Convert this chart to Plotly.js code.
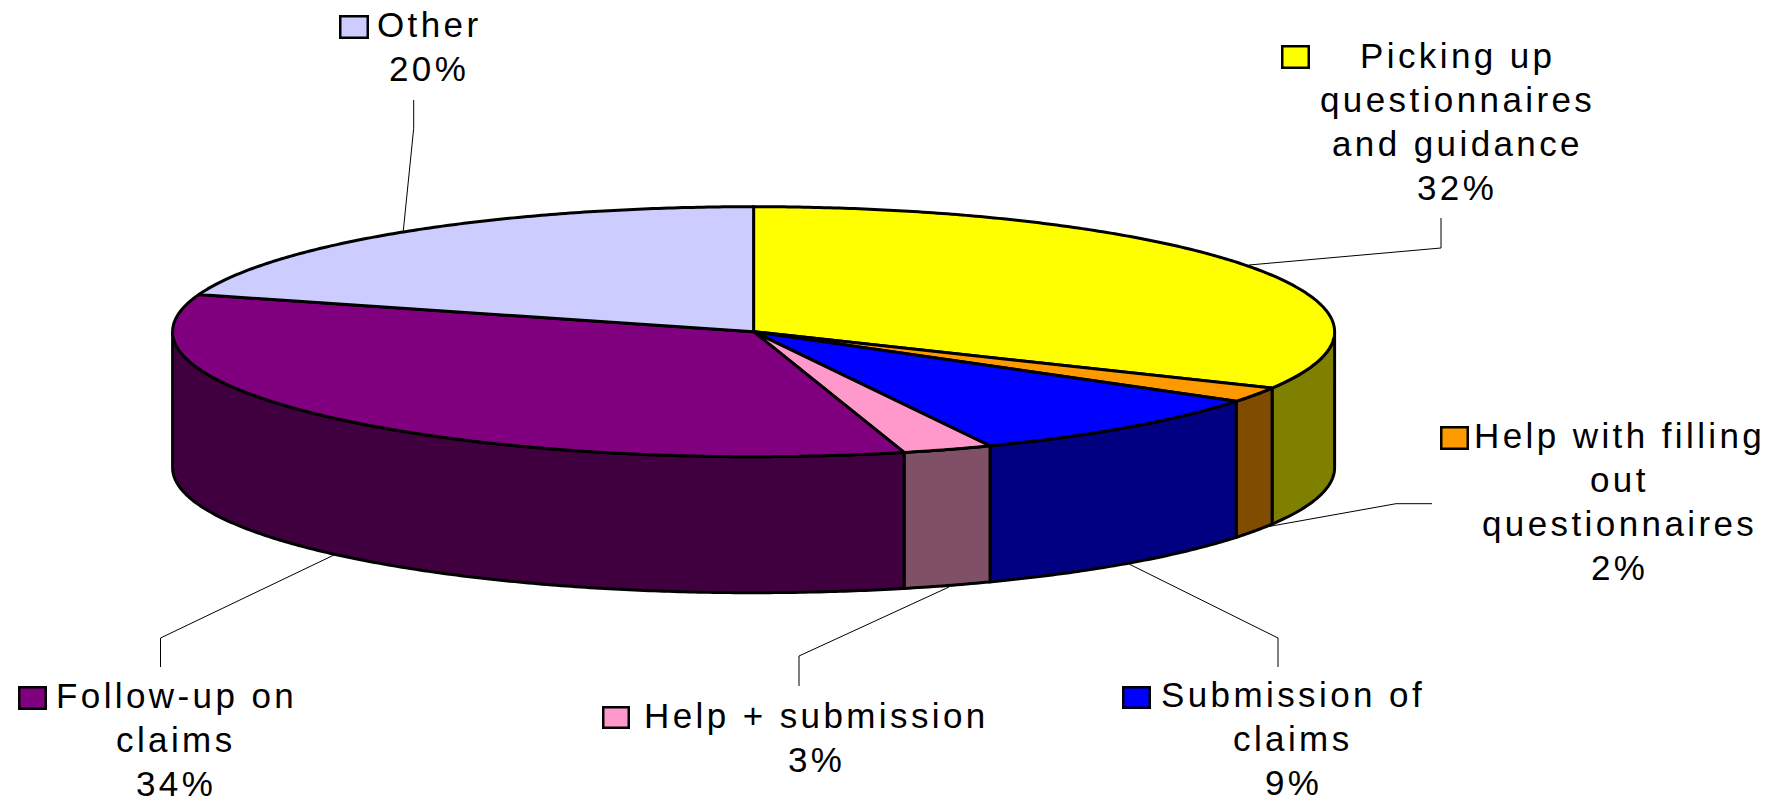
<!DOCTYPE html>
<html>
<head>
<meta charset="utf-8">
<script src="https://cdn.plot.ly/plotly-3.0.1.min.js"></script>
<style>
html,body{margin:0;padding:0;background:#fff}
#chart{width:1780px;height:803px}
.annotation-text{letter-spacing:3.4px}
</style>
</head>
<body>
<div id="chart"></div>
<script>
// ---- data ----
const categories = ["Picking up questionnaires and guidance","Help with filling out questionnaires","Submission of claims","Help + submission","Follow-up on claims","Other"];
const shares = [32.45, 1.95, 8.93, 2.5, 33.97, 20.2];
const labelNames = ["Picking up<br>questionnaires<br>and guidance","Help with filling<br>out<br>questionnaires","Submission of<br>claims","Help + submission","Follow-up on<br>claims","Other"];
const topColors = ["#FFFF00","#FF9900","#0000FF","#FF99CC","#800080","#CCCCFF"];
const sideColors = ["#808000","#804C00","#000080","#805066","#400040","#666680"];

// ---- layout constants (page pixels; the axes are mapped 1:1) ----
const W = 1780, H = 803;
const pie = {cx:753.6, cy:331.7, rx:581, ry:125, depth:136};
const OUTLINE = 3;
const KEY_LINE = 2.5;
const LINE_GAP = 44.2;
const labelCenterX = [1457,1619,1293,816,176,429];
const labelFirstY  = [55,435,694,715,695,24];
const keyBoxes = [[1281,45,1310,69],[1440,426,1469,450],[1122,686,1151,709],[602,706,630,729],[18,686,47,710],[339,15,369,39]];
const leaderX = [[1441,1441,1249],[1432,1396,1266],[1278,1278,1129],[799,799,949],[160.5,160.5,334],[413.7,413.7,403.3]];
const leaderY = [[218,248,265],[503.7,503.7,527],[667,638,564],[686,656,587],[667,638,555],[100,128.3,230.7]];

const total = shares.reduce((a,b)=>a+b,0);
let running = 0;
const slices = shares.map(v=>{const a0=running/total*360; running+=v; return {a0, a1:running/total*360};});
const rad = d=>d*Math.PI/180;
const px = a=>pie.cx+pie.rx*Math.sin(rad(a));
const py = a=>pie.cy-pie.ry*Math.cos(rad(a));
function arc(a0,a1){const n=Math.max(2,Math.ceil(Math.abs(a1-a0)*2));const p=[];for(let i=0;i<=n;i++)p.push(a0+(a1-a0)*i/n);return p;}

const traces = [];
const base = {type:"scatter",mode:"lines",hoverinfo:"skip",showlegend:false,xaxis:"x",yaxis:"y"};

// leader lines
leaderX.forEach((xs,i)=>traces.push(Object.assign({},base,{x:xs,y:leaderY[i],line:{color:"#000",width:1}})));

// visible side walls
slices.forEach((s,i)=>{
  const a0=Math.max(s.a0,90), a1=Math.min(s.a1,270);
  if(a1<=a0) return;
  const angs=arc(a0,a1), back=angs.slice().reverse();
  traces.push(Object.assign({},base,{
    name:categories[i]+" side",
    x:angs.map(px).concat(back.map(px)).concat([px(a0)]),
    y:angs.map(py).concat(back.map(a=>py(a)+pie.depth)).concat([py(a0)]),
    fill:"toself",fillcolor:sideColors[i],
    line:{color:"#000",width:OUTLINE,simplify:false}
  }));
});

// top faces
slices.forEach((s,i)=>{
  const angs=arc(s.a0,s.a1);
  traces.push(Object.assign({},base,{
    name:categories[i],
    x:[pie.cx].concat(angs.map(px)).concat([pie.cx]),
    y:[pie.cy].concat(angs.map(py)).concat([pie.cy]),
    fill:"toself",fillcolor:topColors[i],
    line:{color:"#000",width:OUTLINE,simplify:false}
  }));
});

const annotations = [];
labelNames.forEach((t,i)=>{
  const lines = t.split("<br>").concat([Math.round(shares[i]/total*100)+"%"]);
  lines.forEach((ln,k)=>annotations.push({
    x:labelCenterX[i],y:labelFirstY[i]+k*LINE_GAP,xref:"x",yref:"y",xanchor:"center",yanchor:"middle",align:"center",
    showarrow:false,borderpad:0,text:ln,
    font:{family:"Liberation Sans, Arial, sans-serif",size:35,color:"#000"}
  }));
});

const shapes = keyBoxes.map((b,i)=>({
  type:"rect",xref:"x",yref:"y",
  x0:b[0]+KEY_LINE/2,y0:b[1]+KEY_LINE/2,x1:b[2]-KEY_LINE/2,y1:b[3]-KEY_LINE/2,
  fillcolor:topColors[i],line:{color:"#000",width:KEY_LINE}
}));

Plotly.newPlot("chart",traces,{
  width:W,height:H,margin:{l:0,r:0,t:0,b:0,pad:0},
  paper_bgcolor:"#fff",plot_bgcolor:"#fff",showlegend:false,
  xaxis:{range:[0,W],visible:false,fixedrange:true},
  yaxis:{range:[H,0],visible:false,fixedrange:true},
  annotations,shapes
},{displayModeBar:false,staticPlot:true});
</script>
</body>
</html>
